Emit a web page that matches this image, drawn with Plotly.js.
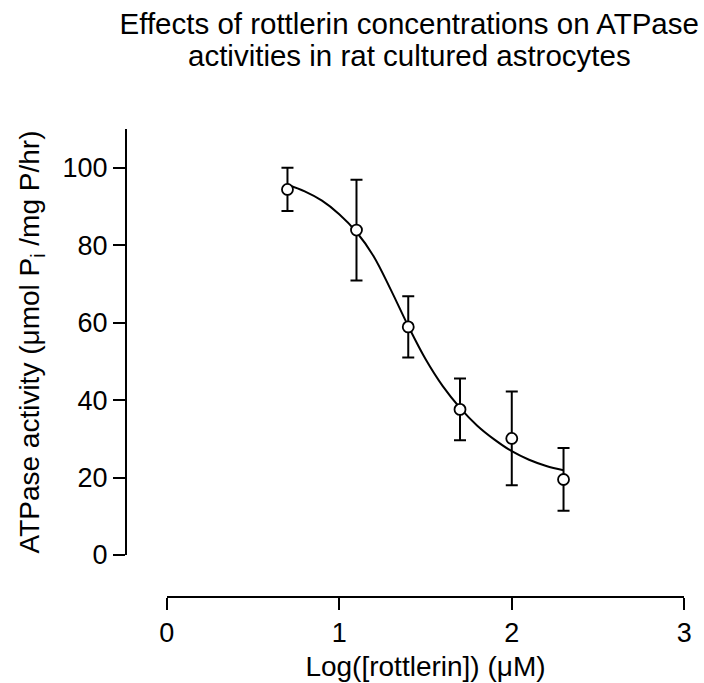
<!DOCTYPE html>
<html>
<head>
<meta charset="utf-8">
<script src="https://cdn.plot.ly/plotly-3.0.1.min.js"></script>
<style>html,body{margin:0;padding:0;background:#fff;}#chart{width:704px;height:683px;}</style>
</head>
<body>
<div id="chart"></div>
<script>
// Measured points (mean ± error)
const logConc = [0.7, 1.1, 1.4, 1.7, 2.0, 2.3];
const activity = [94.4, 83.9, 58.9, 37.6, 30.1, 19.5];
const activityErr = [5.6, 13.0, 7.9, 8.0, 12.1, 8.1];

// Fitted curve
const fitX = [0.7, 0.8, 0.9, 1.0, 1.1, 1.2, 1.3, 1.4, 1.5, 1.6, 1.7, 1.8, 1.9, 2.0, 2.1, 2.2, 2.3];
const fitY = [95.6, 93.9, 91.5, 88.0, 83.4, 77.1, 68.4, 59.1, 50.6, 43.6, 38.0, 33.4, 29.8, 26.8, 24.6, 23.0, 21.9];

const xTicks = [0, 1, 2, 3];
const yTicks = [0, 20, 40, 60, 80, 100];

const titleLine1 = 'Effects of rottlerin concentrations on ATPase';
const titleLine2 = 'activities in rat cultured astrocytes';
const xTitle = 'Log([rottlerin]) (\u03BCM)';
const yTitle = 'ATPase activity (\u03BCmol P<sub>i</sub> /mg P/hr)';

const FONT = 'Liberation Sans, Arial, Helvetica, sans-serif';

const traces = [
  {
    x: fitX, y: fitY, type: 'scatter', mode: 'lines',
    line: {color: '#000', width: 2, shape: 'spline', smoothing: 1},
    hoverinfo: 'skip', showlegend: false, cliponaxis: false
  },
  {
    x: logConc, y: activity, type: 'scatter', mode: 'markers',
    marker: {symbol: 'circle', size: 11, color: '#fff', line: {color: '#000', width: 1.8}},
    error_y: {type: 'data', array: activityErr, visible: true, color: '#000', thickness: 2, width: 6},
    showlegend: false, cliponaxis: false
  }
];

const layout = {
  width: 704, height: 683,
  paper_bgcolor: '#fff', plot_bgcolor: 'rgba(0,0,0,0)',
  margin: {l: 126, r: 16, t: 129, b: 86},
  font: {family: FONT, color: '#000', size: 27},
  showlegend: false,
  title: {
    text: titleLine1,
    font: {family: FONT, size: 29.5, color: '#000'},
    xref: 'paper', x: 0.504, xanchor: 'center',
    yref: 'container', y: 1 - 24 / 683, yanchor: 'middle'
  },
  annotations: [
    {
      text: titleLine2, showarrow: false,
      font: {family: FONT, size: 29.5, color: '#000'},
      xref: 'paper', x: 0.504, xanchor: 'center',
      yref: 'paper', y: (597 - 55.5) / 468, yanchor: 'middle'
    }
  ],
  xaxis: {
    domain: [(166.7 - 126) / 562, (684.3 - 126) / 562],
    range: [0, 3],
    anchor: 'free', position: 0,
    tickvals: xTicks, ticktext: xTicks.map(String),
    showgrid: false, zeroline: false,
    showline: true, linecolor: '#000', linewidth: 2,
    ticks: 'outside', ticklen: 12, tickwidth: 2, tickcolor: '#000',
    tickfont: {family: FONT, size: 27, color: '#000'},
    title: {text: xTitle, font: {family: FONT, size: 28, color: '#000'}, standoff: 8}
  },
  yaxis: {
    domain: [(597 - 555) / 468, 1],
    range: [0, 110],
    anchor: 'free', position: 0,
    tickvals: yTicks, ticktext: yTicks.map(String),
    showgrid: false, zeroline: false,
    showline: true, linecolor: '#000', linewidth: 2,
    ticks: 'outside', ticklen: 12, tickwidth: 2, tickcolor: '#000',
    tickfont: {family: FONT, size: 27, color: '#000'},
    title: {text: yTitle, font: {family: FONT, size: 28, color: '#000'}, standoff: 14}
  }
};

Plotly.newPlot('chart', traces, layout, {displayModeBar: false, staticPlot: true});
</script>
</body>
</html>
